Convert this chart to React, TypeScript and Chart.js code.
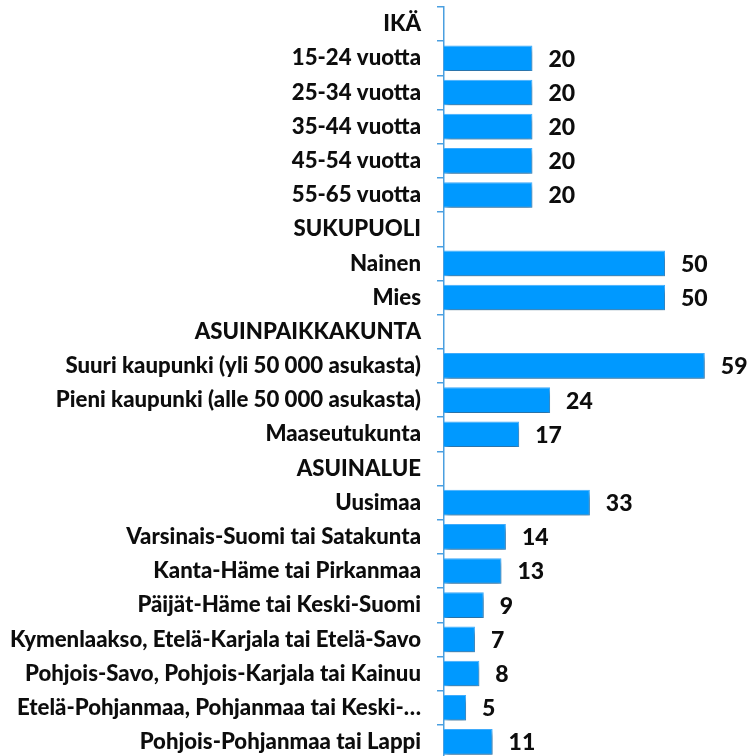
import React, { useEffect, useRef } from "react";
import { Chart, registerables } from "chart.js";

Chart.register(...registerables);

const categories: string[] = [
  "IKÄ",
  "15-24 vuotta",
  "25-34 vuotta",
  "35-44 vuotta",
  "45-54 vuotta",
  "55-65 vuotta",
  "SUKUPUOLI",
  "Nainen",
  "Mies",
  "ASUINPAIKKAKUNTA",
  "Suuri kaupunki (yli 50 000 asukasta)",
  "Pieni kaupunki (alle 50 000 asukasta)",
  "Maaseutukunta",
  "ASUINALUE",
  "Uusimaa",
  "Varsinais-Suomi tai Satakunta",
  "Kanta-Häme tai Pirkanmaa",
  "Päijät-Häme tai Keski-Suomi",
  "Kymenlaakso, Etelä-Karjala tai Etelä-Savo",
  "Pohjois-Savo, Pohjois-Karjala tai Kainuu",
  "Etelä-Pohjanmaa, Pohjanmaa tai Keski-…",
  "Pohjois-Pohjanmaa tai Lappi",
];

const values: (number | null)[] = [
  null, 20, 20, 20, 20, 20,
  null, 50, 50,
  null, 59, 24, 17,
  null, 33, 14, 13, 9, 7, 8, 5, 11,
];

const xMax = 69;

const FONT = "Lato, 'Noto Sans', sans-serif";

const shadowPlugin = {
  id: "barShadow",
  beforeDatasetDraw(chart: any) {
    const ctx = chart.ctx;
    ctx.save();
    ctx.shadowColor = "rgba(0,0,0,0.38)";
    ctx.shadowBlur = 5;
    ctx.shadowOffsetX = 2;
    ctx.shadowOffsetY = 4;
  },
  afterDatasetDraw(chart: any) {
    chart.ctx.restore();
  },
};

const valueLabelPlugin = {
  id: "valueLabels",
  afterDatasetsDraw(chart: any) {
    const ctx = chart.ctx;
    const meta = chart.getDatasetMeta(0);
    const data = chart.data.datasets[0].data;
    ctx.save();
    ctx.font = `900 23px ${FONT}`;
    ctx.fillStyle = "#0d0d0d";
    ctx.textAlign = "left";
    ctx.textBaseline = "middle";
    meta.data.forEach((el: any, i: number) => {
      const v = data[i];
      if (v === null || v === undefined) return;
      ctx.fillText(String(v), el.x + 16, el.y + 1);
    });
    ctx.restore();
  },
};

export default function App() {
  const canvasRef = useRef<HTMLCanvasElement | null>(null);

  useEffect(() => {
    document.body.style.margin = "0";
    document.body.style.overflow = "hidden";
    const canvas = canvasRef.current;
    if (!canvas) return;
    const chart = new Chart(canvas, {
      type: "bar",
      data: {
        labels: categories,
        datasets: [
          {
            data: values as any,
            backgroundColor: "#0099FF",
            borderColor: "#40AEFF",
            borderWidth: 1,
            barPercentage: 0.75,
            categoryPercentage: 1,
          },
        ],
      },
      options: {
        indexAxis: "y",
        animation: false,
        responsive: true,
        maintainAspectRatio: false,
        layout: { padding: { top: 7, bottom: 1, left: 0, right: 0 } },
        plugins: {
          legend: { display: false },
          tooltip: { enabled: false },
        },
        scales: {
          x: {
            display: false,
            min: 0,
            max: xMax,
          },
          y: {
            afterFit(scale: any) {
              scale.width = 444;
              scale.paddingTop = 0;
              scale.paddingBottom = 0;
            },
            border: { display: true, color: "#4A9FE0", width: 1.5 },
            grid: {
              offset: true,
              drawOnChartArea: false,
              drawTicks: true,
              tickLength: 7,
              color: "#4A9FE0",
              lineWidth: 1.5,
            },
            ticks: {
              autoSkip: false,
              padding: 16,
              color: "#0d0d0d",
              font: { family: FONT, size: 22.2, weight: "900" },
            },
          },
        },
      },
      plugins: [shadowPlugin, valueLabelPlugin],
    });
    return () => chart.destroy();
  }, []);

  return (
    <div
      style={{
        position: "fixed",
        left: 0,
        top: 0,
        width: 749,
        height: 756,
        overflow: "hidden",
        background: "#ffffff",
      }}
    >
      <div style={{ position: "relative", width: 749, height: 760 }}>
        <canvas ref={canvasRef} />
      </div>
    </div>
  );
}
